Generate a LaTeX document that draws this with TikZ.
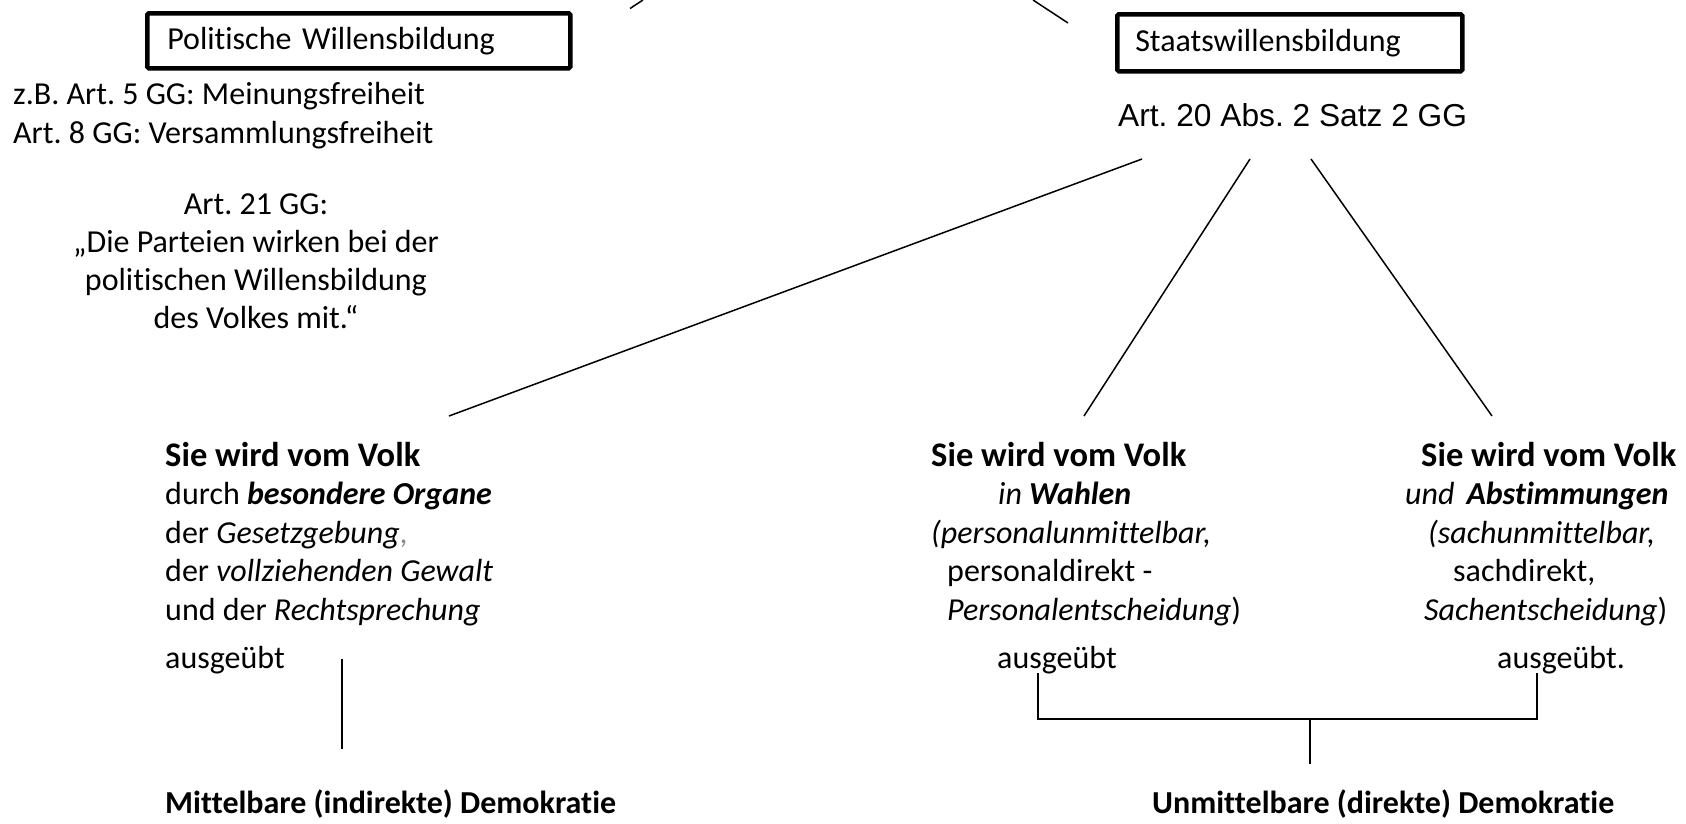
\documentclass[tikz,border=0pt]{standalone}
\usepackage{fontspec}
\setmainfont{Carlito}[Ligatures=CommonOff]
\newfontfamily\arialfont{Liberation Sans}
\usepackage{tikz}
\definecolor{commagray}{gray}{0.55}
\newcommand{\headline}[1]{{\fontsize{34.5}{38.5}\selectfont\textbf{#1}}}
\frenchspacing

\begin{document}
\begin{tikzpicture}[x=1pt, y=-1pt,
  every node/.style={inner sep=0pt, font=\fontsize{32}{38.5}\selectfont},
  titlebox/.style={draw, line width=4.5pt, rounded corners=1.5pt, anchor=north west, align=left},
  txt/.style={anchor=base west, align=left},
  conn/.style={line width=1.5pt},
  bracket/.style={line width=2.3pt}]
  \useasboundingbox[fill=white] (0,0) rectangle (1686,823);

  % upper boxes
  \node[titlebox, minimum height=55pt, text width=383pt, inner xsep=20pt] (pwb) at (145,11) {Politische Willensbildung};
  \node[titlebox, minimum height=57pt, text width=309pt, inner xsep=18pt] (swb) at (1115,12) {Staatswillensbildung};

  % left side notes (base = last line)
  \node[txt] (bsp) at (13,143) {z.B. Art. 5 GG: Meinungsfreiheit\\Art. 8 GG: Versammlungsfreiheit};
  \node[anchor=base, align=center, font=\fontsize{32}{37.7}\selectfont] (art21) at (256,328)
    {Art. 21 GG:\\„Die Parteien wirken bei der\\politischen Willensbildung\\des Volkes mit.“};

  % right side
  \node[anchor=base west, font=\arialfont\fontsize{31.7}{38}\selectfont] (art20) at (1118,126) {Art. 20 Abs. 2 Satz 2 GG};

  % three ways
  \node[txt] (organe) at (165,620) {\headline{Sie wird vom Volk}\\
    durch \textbf{\textit{besondere Organe}}\\
    der \textit{Gesetzgebung}\textcolor{commagray}{,}\\
    der \textit{vollziehenden Gewalt}\\
    und der \textit{Rechtsprechung}};
  \node[txt] (wahlen) at (931,620) {\headline{Sie wird vom Volk}\\
    \hspace*{67pt}\textit{in} \textbf{\textit{Wahlen}}\\
    \textit{(personalunmittelbar,}\\
    \hspace*{16pt}personaldirekt -\\
    \hspace*{16pt}\textit{Personalentscheidung})};
  \node[txt] (abst) at (1405,620) {\hspace*{16pt}\headline{Sie wird vom Volk}\\
    \textit{und}\hspace{12pt}\textbf{\textit{Abstimmungen}}\\
    \hspace*{23pt}\textit{(sachunmittelbar,}\\
    \hspace*{48pt}sachdirekt,\\
    \hspace*{19pt}\textit{Sachentscheidung})};

  \node[txt] (ausL) at (165,668) {ausgeübt};
  \node[txt] (ausM) at (997,668) {ausgeübt};
  \node[txt] (ausR) at (1497,668) {ausgeübt.};

  % results
  \node[txt] (mittel) at (165,813) {\textbf{Mittelbare (indirekte) Demokratie}};
  \node[txt] (unmittel) at (1152,813) {\textbf{Unmittelbare (direkte) Demokratie}};

  % line ends
  \coordinate (upL1) at (643,0);    \coordinate (upL2) at (630,8.5);
  \coordinate (upR1) at (1033,0);   \coordinate (upR2) at (1068,23);
  \coordinate (a20L) at (1142,159); \coordinate (orgTop) at (449,416);
  \coordinate (a20M) at (1250,159); \coordinate (wahTop) at (1084,416);
  \coordinate (a20R) at (1311,159); \coordinate (absTop) at (1492,416);
  \coordinate (indTop) at (342,659); \coordinate (indBot) at (342,749);
  \coordinate (brL) at (1038,673);  \coordinate (brR) at (1537,673);
  \coordinate (brMid) at (1310,719); \coordinate (dirBot) at (1310,764);

  \draw[conn] (upL1) -- (upL2);
  \draw[conn] (upR1) -- (upR2);
  \draw[conn] (a20L) -- (orgTop);
  \draw[conn] (a20M) -- (wahTop);
  \draw[conn] (a20R) -- (absTop);
  \draw[conn] (indTop) -- (indBot);
  \draw[bracket] (brL) |- (brMid) -| (brR);
  \draw[conn] (brMid) -- (dirBot);
\end{tikzpicture}
\end{document}
